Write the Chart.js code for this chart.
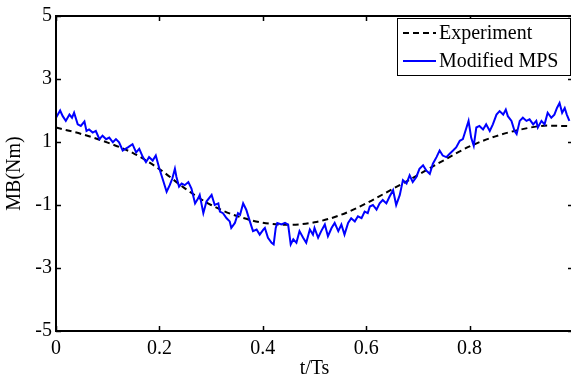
<!DOCTYPE html>
<html>
<head>
<meta charset="utf-8">
<script src="https://cdn.jsdelivr.net/npm/chart.js@4.4.1/dist/chart.umd.min.js"></script>
<style>
  html, body { margin: 0; padding: 0; background: #fff; overflow: hidden; }
  #wrap { width: 571px; height: 381px; overflow: hidden; }
</style>
</head>
<body>
<div id="wrap"><canvas id="chart" width="580" height="381"></canvas></div>
<script>
// Experiment (dashed black)
const tExp  = [0, 0.05, 0.1, 0.15, 0.2, 0.25, 0.3, 0.35, 0.4, 0.45, 0.5,
               0.55, 0.6, 0.65, 0.7, 0.75, 0.8, 0.85, 0.9, 0.95, 1.0];
const mbExp = [1.46, 1.25, 0.98, 0.64, 0.14, -0.48, -1.0, -1.35, -1.56, -1.63, -1.55,
               -1.32, -0.95, -0.5, -0.05, 0.42, 0.86, 1.18, 1.4, 1.52, 1.5];

// Modified MPS (solid blue)
const tMps = [0, 0.008, 0.013, 0.019, 0.026, 0.031, 0.035, 0.042, 0.048, 0.055,
  0.059, 0.064, 0.071, 0.077, 0.084, 0.090, 0.097, 0.103, 0.110, 0.116,
  0.122, 0.129, 0.139, 0.148, 0.155, 0.161, 0.168, 0.174, 0.180, 0.187,
  0.193, 0.200, 0.206, 0.214, 0.220, 0.225, 0.230, 0.233, 0.238, 0.243,
  0.249, 0.256, 0.262, 0.269, 0.275, 0.278, 0.285, 0.291, 0.301, 0.307,
  0.314, 0.317, 0.323, 0.330, 0.336, 0.339, 0.346, 0.352, 0.356, 0.362,
  0.368, 0.375, 0.381, 0.388, 0.394, 0.401, 0.404, 0.410, 0.417, 0.421,
  0.425, 0.428, 0.436, 0.443, 0.449, 0.454, 0.459, 0.465, 0.471, 0.478,
  0.484, 0.491, 0.497, 0.500, 0.507, 0.513, 0.520, 0.526, 0.533, 0.539,
  0.546, 0.552, 0.558, 0.565, 0.571, 0.578, 0.584, 0.591, 0.597, 0.603,
  0.607, 0.613, 0.620, 0.626, 0.632, 0.639, 0.645, 0.652, 0.658, 0.665,
  0.671, 0.678, 0.684, 0.690, 0.697, 0.703, 0.710, 0.716, 0.723, 0.729,
  0.736, 0.742, 0.748, 0.755, 0.761, 0.768, 0.774, 0.781, 0.787, 0.794,
  0.798, 0.803, 0.808, 0.813, 0.819, 0.826, 0.832, 0.839, 0.845, 0.852,
  0.858, 0.865, 0.870, 0.874, 0.881, 0.887, 0.891, 0.897, 0.903, 0.910,
  0.916, 0.923, 0.929, 0.932, 0.939, 0.945, 0.951, 0.958, 0.964, 0.969,
  0.974, 0.979, 0.984, 0.988, 0.993];
const mbMps = [1.77, 2.0, 1.82, 1.67, 1.87, 1.77, 1.93, 1.56, 1.51, 1.65,
  1.35, 1.40, 1.30, 1.35, 1.09, 1.20, 1.09, 1.14, 0.99, 1.09,
  0.99, 0.73, 0.83, 0.93, 0.67, 0.78, 0.52, 0.36, 0.52, 0.41,
  0.57, 0.15, -0.16, -0.58, -0.37, -0.16, 0.15, -0.11, -0.42, -0.32,
  -0.37, -0.27, -0.48, -0.95, -0.79, -0.68, -1.26, -0.89, -0.68, -1.00,
  -0.95, -1.21, -1.26, -1.42, -1.52, -1.73, -1.57, -1.26, -1.31, -0.95,
  -1.15, -1.52, -1.83, -1.78, -1.94, -1.78, -1.73, -2.04, -2.20, -2.25,
  -1.73, -1.57, -1.62, -1.57, -1.62, -2.25, -2.09, -2.20, -1.83, -2.04,
  -2.20, -1.78, -1.94, -1.73, -2.04, -1.83, -1.62, -1.99, -1.73, -1.57,
  -1.83, -1.62, -1.94, -1.57, -1.42, -1.52, -1.36, -1.42, -1.21, -1.26,
  -1.05, -1.00, -1.15, -0.95, -0.84, -0.95, -0.74, -0.53, -1.00, -0.68,
  -0.21, -0.32, -0.06, -0.27, -0.11, 0.15, 0.26, 0.10, -0.01, 0.31,
  0.52, 0.73, 0.57, 0.52, 0.62, 0.73, 0.83, 1.04, 1.09, 1.46,
  1.67, 1.14, 0.88, 1.46, 1.51, 1.40, 1.56, 1.35, 1.56, 1.87,
  1.98, 1.87, 2.03, 1.82, 1.67, 1.35, 1.25, 1.67, 1.77, 1.67,
  1.72, 1.56, 1.67, 1.46, 1.67, 1.56, 1.93, 1.77, 1.87, 2.08,
  2.24, 1.93, 2.08, 1.87, 1.67];

const seriesNames = ['Experiment', 'Modified MPS'];
const yTickValues = [-5, -3, -1, 1, 3, 5];

const FONT = 'Liberation Serif';

function toPoints(xs, ys) {
  return xs.map((x, i) => ({ x: x, y: ys[i] }));
}

// box around the plot + ticks pointing inward on all four sides
const frameTicks = {
  id: 'frameTicks',
  afterDraw(chart) {
    const { ctx, chartArea: a, scales } = chart;
    const len = 5;
    ctx.save();
    ctx.strokeStyle = '#000';
    ctx.lineWidth = 1.5;
    ctx.beginPath();
    scales.x.ticks.forEach(t => {
      const px = Math.round(scales.x.getPixelForValue(t.value)) + 0.5;
      ctx.moveTo(px, a.bottom); ctx.lineTo(px, a.bottom - len);
      ctx.moveTo(px, a.top); ctx.lineTo(px, a.top + len);
    });
    scales.y.ticks.forEach(t => {
      const py = Math.round(scales.y.getPixelForValue(t.value)) + 0.5;
      ctx.moveTo(a.left, py); ctx.lineTo(a.left + len, py);
      ctx.moveTo(a.right, py); ctx.lineTo(a.right - len, py);
    });
    ctx.stroke();
    ctx.lineWidth = 2;
    ctx.strokeRect(a.left, a.top, a.right - a.left, a.bottom - a.top);
    ctx.restore();
  }
};

// legend box in the upper right, matlab style
const boxLegend = {
  id: 'boxLegend',
  afterDraw(chart) {
    const { ctx } = chart;
    const x0 = 397, y0 = 18, w = 173, h = 57;
    ctx.save();
    ctx.fillStyle = '#fff';
    ctx.fillRect(x0, y0, w, h);
    ctx.strokeStyle = '#000';
    ctx.lineWidth = 1;
    ctx.strokeRect(x0 + 0.5, y0 + 0.5, w, h);
    const rows = [33, 61];
    chart.data.datasets.forEach((ds, i) => {
      const y = rows[i];
      ctx.strokeStyle = ds.borderColor;
      ctx.lineWidth = ds.borderWidth;
      ctx.setLineDash(ds.borderDash || []);
      ctx.beginPath();
      ctx.moveTo(403, y); ctx.lineTo(436, y);
      ctx.stroke();
      ctx.setLineDash([]);
      ctx.fillStyle = '#000';
      ctx.font = '20px "' + FONT + '"';
      ctx.textBaseline = 'middle';
      ctx.fillText(ds.label, 439, y + 1);
    });
    ctx.restore();
  }
};

new Chart(document.getElementById('chart').getContext('2d'), {
  type: 'line',
  data: {
    datasets: [{
      label: seriesNames[0],
      data: toPoints(tExp, mbExp),
      borderColor: '#000000',
      borderWidth: 2,
      borderDash: [6, 4],
      pointRadius: 0,
      cubicInterpolationMode: 'monotone',
      order: 2
    }, {
      label: seriesNames[1],
      data: toPoints(tMps, mbMps),
      borderColor: '#0000ff',
      borderWidth: 2,
      pointRadius: 0,
      tension: 0,
      order: 1
    }]
  },
  options: {
    responsive: false,
    animation: false,
    layout: { padding: { left: 0, top: 12, right: 7, bottom: 0 } },
    plugins: {
      legend: { display: false },
      tooltip: { enabled: false }
    },
    scales: {
      x: {
        type: 'linear',
        min: 0,
        max: 1,
        grid: { display: false, drawTicks: false },
        border: { display: false },
        ticks: {
          stepSize: 0.2,
          padding: 6,
          color: '#000',
          font: { family: FONT, size: 20 },
          maxRotation: 0,
          callback: v => (v >= 1 ? '' : String(Math.round(v * 10) / 10))
        },
        title: {
          display: true,
          text: 't/Ts',
          color: '#000',
          font: { family: FONT, size: 20 },
          padding: { top: 0, bottom: 0 }
        },
        afterFit: s => { s.height = 50; }
      },
      y: {
        min: -5,
        max: 5,
        grid: { display: false, drawTicks: false },
        border: { display: false },
        afterBuildTicks: s => { s.ticks = yTickValues.map(v => ({ value: v })); },
        ticks: {
          padding: 4,
          color: '#000',
          font: { family: FONT, size: 20 }
        },
        title: {
          display: true,
          text: 'MB(Nm)',
          color: '#000',
          font: { family: FONT, size: 20 },
          padding: { top: 3, bottom: 0 }
        },
        afterFit: s => { s.width = 56; }
      }
    }
  },
  plugins: [frameTicks, boxLegend]
});
</script>
</body>
</html>
